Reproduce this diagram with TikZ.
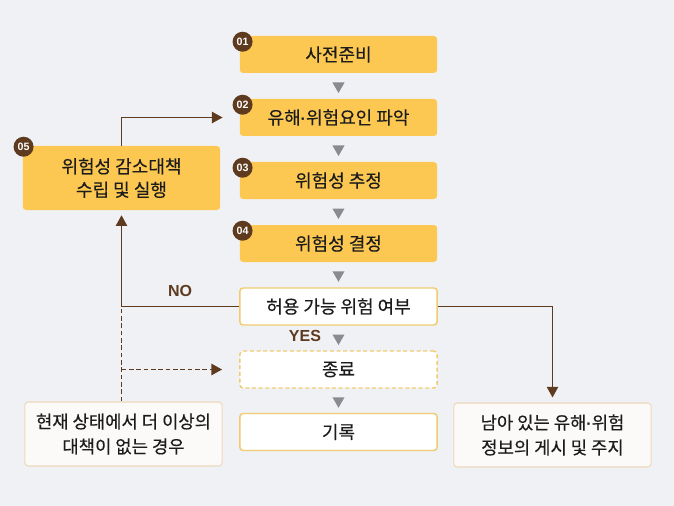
\documentclass[tikz,border=0pt]{standalone}
\usepackage{fontspec}
\setmainfont{Noto Sans CJK KR}[FakeBold=0.3]
\newfontfamily\latinfont{Liberation Sans}
\newcommand{\mdot}{{\latinfont\fontsize{12}{12}\selectfont\textbf{·}}}
\usepackage{xcolor}
\definecolor{rkbg}{RGB}{240,241,245}
\definecolor{rkyellow}{RGB}{252,200,82}
\definecolor{rkgold}{RGB}{240,204,112}
\definecolor{rkbrown}{RGB}{94,58,30}
\definecolor{rkgray}{RGB}{138,138,144}
\definecolor{rkpeach}{RGB}{238,216,188}
\definecolor{rkpaper}{RGB}{251,250,248}
\definecolor{rktext}{RGB}{28,28,28}
\usetikzlibrary{arrows.meta,positioning,shapes.geometric,calc}

\begin{document}
\begin{tikzpicture}[x=0.75pt, y=-0.75pt,
    stepcard/.style={rectangle, rounded corners=2.5pt, minimum width=148pt,
                     minimum height=27.75pt, inner sep=0pt, text=rktext,
                     font=\fontsize{13.5}{17.6}\selectfont, align=center},
    notecard/.style={rectangle, rounded corners=2.5pt, minimum width=148pt,
                     minimum height=48pt, inner sep=0pt, fill=rkpaper, draw=rkpeach,
                     line width=0.8pt, text=rktext,
                     font=\fontsize{13.3}{18.7}\selectfont, align=center},
    badge/.style={circle, fill=rkbrown, text=white, minimum size=15pt, inner sep=0pt,
                  font=\latinfont\fontsize{8}{8}\selectfont\bfseries},
    tri/.style={regular polygon, regular polygon sides=3, shape border rotate=180,
                fill=rkgray, minimum size=10.5pt, inner sep=0pt},
    tag/.style={text=rkbrown, font=\latinfont\fontsize{12}{12}\selectfont\bfseries},
    flow/.style={-{Triangle[length=8pt,width=8.5pt]}, rkbrown, line width=1.1pt},
    >=stealth
  ]
    % background and page size
    \fill[rkbg] (0,0) rectangle (674,506);
    \useasboundingbox (0,0) rectangle (674,506);

    % Main steps
    \node[stepcard, fill=rkyellow] (s1) at (338.5,54.5) {사전준비};
    \node[stepcard, fill=rkyellow] (s2) at (338.5,117.5) {유해\mdot 위험요인 파악};
    \node[stepcard, fill=rkyellow] (s3) at (338.5,180.5) {위험성 추정};
    \node[stepcard, fill=rkyellow] (s4) at (338.5,243.5) {위험성 결정};
    \node[stepcard, fill=white, draw=rkgold, line width=1.1pt] (chk) at (338.5,306.5) {허용 가능 위험 여부};
    \node[stepcard, fill=white, draw=rkgold, line width=1.1pt, dash pattern=on 3pt off 2pt] (done) at (338.5,369.5) {종료};
    \node[stepcard, fill=white, draw=rkgold, line width=1.1pt] (rec) at (338.5,432) {기록};

    % Reduction step
    \node[stepcard, fill=rkyellow, minimum height=48pt] (s5) at (121.5,178) {위험성 감소대책\\수립 및 실행};

    % Notes
    \node[notecard] (none) at (123.5,434) {현재 상태에서 더 이상의\\대책이 없는 경우};
    \node[notecard] (rest) at (552.5,435) {남아 있는 유해\mdot 위험\\정보의 게시 및 주지};

    % Step numbers
    \node[badge] (n1) at ($(s1.north west)+(3,6)$) {01};
    \node[badge] (n2) at ($(s2.north west)+(3,6)$) {02};
    \node[badge] (n3) at ($(s3.north west)+(3,6)$) {03};
    \node[badge] (n4) at ($(s4.north west)+(3,6)$) {04};
    \node[badge] (n5) at ($(s5.north west)+(1,1)$) {05};

    % Gray markers between steps
    \foreach \a/\b [count=\i] in {s1/s2,s2/s3,s3/s4,s4/chk,chk/done,done/rec}
      \node[tri] (t\i) at ($(\a.south)!0.5!(\b.north)$) {};

    % Loop back
    \draw[flow, shorten >=12.75pt] (s5.north) |- (s2.west);
    \draw[flow, shorten >=3.75pt] (chk.west) -| (s5.south);
    \node[tag] (no) at (180,291) {NO};
    \node[tag] (yes) at (305,336) {YES};

    % No more measures (dashed)
    \coordinate (jtop) at (s5.south |- chk.west);
    \coordinate (jmid) at (s5.south |- done.west);
    \draw[rkbrown, line width=1.1pt, dash pattern=on 3.5pt off 2pt] (none.north -| s5.south) -- (jtop);
    \draw[flow, dash pattern=on 3.5pt off 2pt, shorten >=12.75pt] (jmid) -- (done.west);

    % Residual risk
    \draw[flow, shorten >=3.75pt] (chk.east) -| (rest.north);
  \end{tikzpicture}
\end{document}
